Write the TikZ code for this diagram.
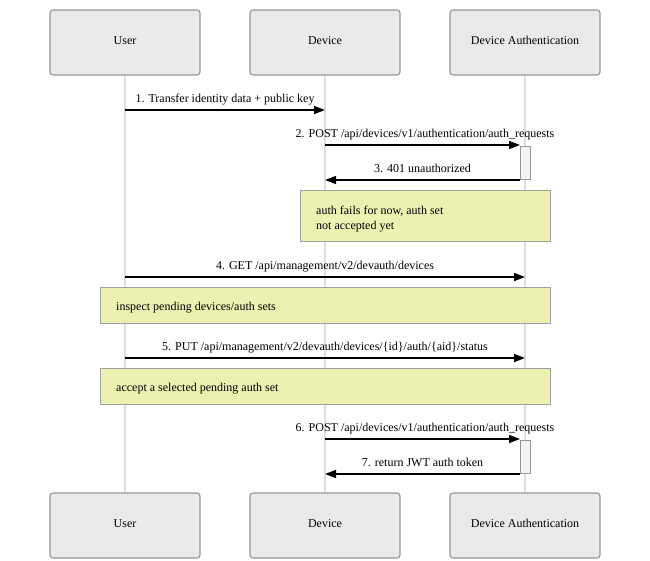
\documentclass[tikz,border=0pt]{standalone}
\usepackage{fontspec}
\setmainfont{Liberation Serif}
\usetikzlibrary{arrows.meta}
\definecolor{actfill}{RGB}{234,234,234}
\definecolor{actdraw}{RGB}{150,150,150}
\definecolor{lifecol}{RGB}{221,221,221}
\definecolor{notefill}{RGB}{236,240,176}
\definecolor{notedraw}{RGB}{160,160,160}
\definecolor{activfill}{RGB}{244,244,244}
\begin{document}
\begin{tikzpicture}[x=1pt,y=-1pt,
  font=\fontsize{12}{15}\selectfont,
  actor/.style={draw=actdraw, fill=actfill, rounded corners=3pt, line width=1.1pt,
    minimum width=150pt, minimum height=65pt, inner sep=0pt, text height=8pt, text depth=5pt},
  life/.style={draw=lifecol, line width=1.4pt},
  msg/.style={line width=1.6pt, -{Triangle[length=11pt,width=8pt]}},
  lbl/.style={anchor=base, inner sep=0pt, yshift=7.8pt},
  notebox/.style={draw=notedraw, fill=notefill, line width=0.9pt, inner sep=0pt, anchor=north west},
  notetxt/.style={anchor=base west, inner sep=0pt},
  activ/.style={draw=actdraw, fill=activfill, line width=0.9pt, inner sep=0pt, minimum width=10pt}
]
\useasboundingbox (0,0) rectangle (650,560);
% participants
\node[actor] (uT) at (125,42.5) {User};
\node[actor] (dT) at (325,42.5) {Device};
\node[actor] (aT) at (525,42.5) {Device Authentication};
\node[actor] (uB) at (125,525.5) {User};
\node[actor] (dB) at (325,525.5) {Device};
\node[actor] (aB) at (525,525.5) {Device Authentication};
% lifelines
\draw[life] (uT) -- (uB);
\draw[life] (dT) -- (dB);
\draw[life] (aT) -- (aB);
% activations
\node[activ, minimum height=33pt] (act1) at (525,163) {};
\node[activ, minimum height=33pt] (act2) at (525,457) {};
% message coordinates
\coordinate (m1a) at (125,110); \coordinate (m1b) at (325,110);
\coordinate (m2a) at (325,145); \coordinate (m2b) at (520,145);
\coordinate (m3a) at (520,180); \coordinate (m3b) at (325,180);
\coordinate (m4a) at (125,277); \coordinate (m4b) at (525,277);
\coordinate (m5a) at (125,358); \coordinate (m5b) at (525,358);
\coordinate (m6a) at (325,439); \coordinate (m6b) at (520,439);
\coordinate (m7a) at (520,474); \coordinate (m7b) at (325,474);
% messages
\draw[msg] (m1a) -- node[lbl] {1. Transfer identity data + public key} (m1b);
\draw[msg] (m2a) -- node[lbl, xshift=2.5pt] {2. POST /api/devices/v1/authentication/auth\_requests} (m2b);
\draw[msg] (m3a) -- node[lbl] {3. 401 unauthorized} (m3b);
\draw[msg] (m4a) -- node[lbl] {4. GET /api/management/v2/devauth/devices} (m4b);
\draw[msg] (m5a) -- node[lbl] {5. PUT /api/management/v2/devauth/devices/\{id\}/auth/\{aid\}/status} (m5b);
\draw[msg] (m6a) -- node[lbl, xshift=2.5pt] {6. POST /api/devices/v1/authentication/auth\_requests} (m6b);
\draw[msg] (m7a) -- node[lbl] {7. return JWT auth token} (m7b);
% notes
\node[notebox, minimum width=250pt, minimum height=51pt] (n1) at (300,190) {};
\node[notetxt] (n1a) at (316,214) {auth fails for now, auth set};
\node[notetxt] (n1b) at (316,229.5) {not accepted yet};
\node[notebox, minimum width=450pt, minimum height=36pt] (n2) at (100,287) {};
\node[notetxt] (n2a) at (116,310.5) {inspect pending devices/auth sets};
\node[notebox, minimum width=450pt, minimum height=36pt] (n3) at (100,367.5) {};
\node[notetxt] (n3a) at (116,391) {accept a selected pending auth set};
\end{tikzpicture}
\end{document}
